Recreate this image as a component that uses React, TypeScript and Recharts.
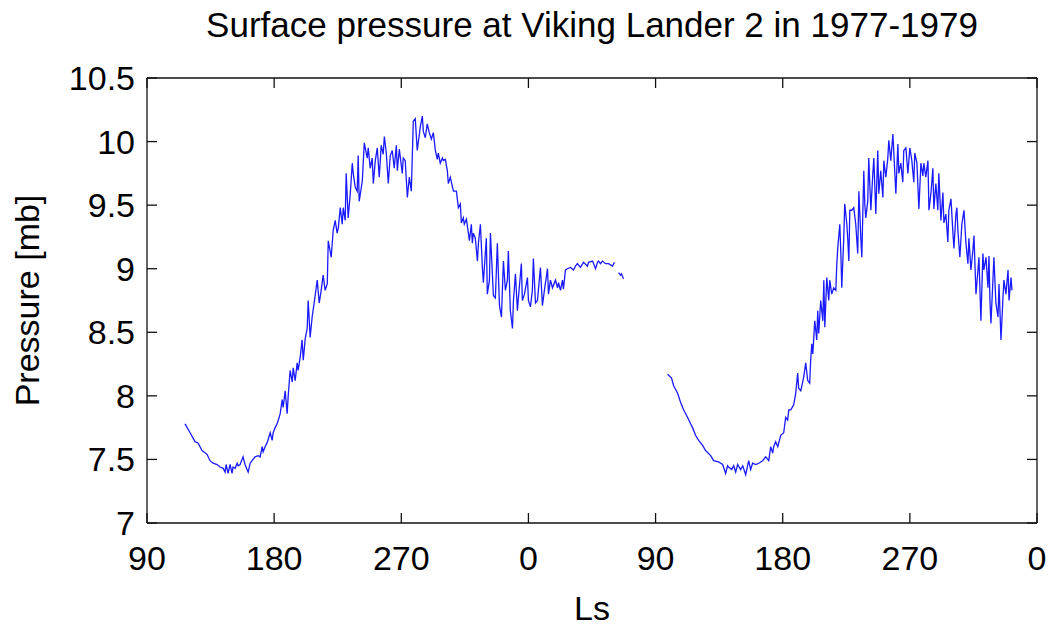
import { LineChart, Line, XAxis, YAxis } from 'recharts';

// Ls is counted on continuously: the second Mars year carries on past 360
const lsTicks = [90, 180, 270, 360, 450, 540, 630, 720];
const pressureTicks = [7, 7.5, 8, 8.5, 9, 9.5, 10, 10.5];

// first season (1977)
const lsFirst = [
  116.9, 120.5, 124.0, 126.1, 129.0, 132.5, 134.6, 136.8, 139.6, 141.7,
  143.9, 145.3, 146.0, 147.4, 148.8, 150.2, 150.9, 152.4, 153.8, 154.5,
  155.9, 158.0, 159.4, 161.6, 163.0, 164.4, 166.5, 168.7, 170.1, 171.5,
  172.2, 173.6, 175.0, 177.2, 178.6, 179.3, 180.7, 182.1, 183.5, 184.3,
  185.7, 186.4, 187.8, 189.2, 189.9, 191.3, 192.8, 193.5, 194.9, 196.3,
  197.0, 198.4, 199.8, 200.6, 202.0, 203.4, 204.1, 205.5, 206.9, 208.3,
  210.5, 211.9, 213.3, 214.7, 216.1, 217.6, 218.3, 220.4, 221.8, 223.2,
  224.6, 225.4, 226.8, 228.2, 228.9, 230.3, 231.0, 232.4, 233.9, 235.3,
  236.0, 237.4, 238.8, 239.5, 240.2, 242.4, 243.8, 245.9, 246.6, 248.0,
  249.4, 250.2, 251.6, 253.0, 254.4, 255.8, 257.2, 258.0, 259.4, 260.8,
  262.2, 263.6, 265.0, 266.5, 267.2, 268.6, 270.7, 271.4, 272.8, 274.3,
  275.7, 277.1, 278.5, 279.9, 281.3, 283.5, 284.9, 285.6, 287.0, 288.4,
  289.8, 291.3, 292.7, 294.1, 295.5, 296.2, 297.6, 299.1, 299.8, 301.2,
  302.6, 303.3, 304.7, 306.1, 306.9, 309.0, 310.4, 311.8, 312.5, 313.9,
  314.6, 316.1, 317.5, 318.2, 319.6, 320.3, 321.0, 322.4, 323.9, 324.6,
  326.0, 327.4, 328.1, 330.2, 330.9, 332.4, 333.1, 335.2, 336.6, 338.0,
  339.5, 340.9, 342.3, 343.7, 345.1, 345.8, 347.2, 348.7, 349.4, 350.8,
  352.2, 352.9, 355.0, 355.7, 357.2, 359.3, 360.0, 361.4, 362.8, 363.5,
  365.0, 366.4, 368.5, 369.9, 371.3, 373.5, 374.2, 375.6, 377.0, 379.1,
  380.6, 381.3, 382.7, 384.1, 384.8, 386.2, 387.6, 389.8, 391.9, 393.3,
  394.7, 396.8, 399.0, 401.8, 402.5, 405.4, 407.5, 408.9, 409.6, 411.0,
  412.4, 414.6, 416.7, 419.5, 420.9,
];
const mbFirst = [
  7.78, 7.71, 7.64, 7.63, 7.57, 7.54, 7.49, 7.47, 7.46, 7.44,
  7.43, 7.40, 7.46, 7.39, 7.46, 7.39, 7.44, 7.43, 7.47, 7.45,
  7.46, 7.52, 7.46, 7.40, 7.47, 7.49, 7.52, 7.53, 7.52, 7.60,
  7.56, 7.60, 7.63, 7.71, 7.65, 7.71, 7.75, 7.78, 7.83, 7.86,
  7.97, 7.91, 8.04, 7.86, 7.99, 8.20, 8.11, 8.22, 8.12, 8.26,
  8.20, 8.30, 8.44, 8.28, 8.45, 8.53, 8.75, 8.46, 8.62, 8.73,
  8.91, 8.73, 8.83, 8.95, 8.83, 8.88, 9.22, 9.09, 9.30, 9.38,
  9.28, 9.32, 9.48, 9.35, 9.48, 9.38, 9.75, 9.40, 9.59, 9.83,
  9.75, 9.64, 9.61, 9.89, 9.53, 9.69, 9.99, 9.87, 9.95, 9.79,
  9.87, 9.67, 9.85, 9.95, 9.72, 9.97, 9.90, 10.04, 9.91, 9.67,
  9.89, 9.93, 9.79, 9.97, 9.77, 9.94, 9.75, 9.87, 9.85, 9.56,
  9.72, 9.61, 10.16, 10.18, 9.93, 10.12, 10.20, 10.08, 10.03, 10.14,
  10.07, 10.02, 10.07, 9.93, 9.86, 9.91, 9.83, 9.87, 9.85, 9.86,
  9.77, 9.67, 9.72, 9.65, 9.61, 9.61, 9.48, 9.51, 9.36, 9.40,
  9.35, 9.39, 9.28, 9.22, 9.35, 9.20, 9.28, 9.24, 9.06, 9.20,
  9.35, 9.01, 8.89, 9.24, 8.80, 8.91, 9.28, 8.79, 8.77, 9.20,
  8.71, 8.62, 9.06, 8.83, 8.91, 9.14, 8.67, 8.53, 8.75, 8.96,
  8.67, 8.77, 9.04, 8.75, 8.80, 8.93, 8.75, 8.70, 8.83, 9.08,
  8.73, 8.75, 9.01, 8.71, 8.83, 9.00, 8.80, 8.91, 8.85, 8.91,
  8.85, 8.89, 8.83, 8.91, 8.84, 8.99, 9.00, 9.01, 8.99, 9.02,
  9.04, 9.01, 9.05, 9.02, 9.05, 9.06, 9.00, 9.05, 9.06, 9.04,
  9.06, 9.04, 9.04, 9.02, 9.05,
];

// short piece after the first break
const lsShort = [423.8, 425.2, 425.9, 427.3];
const mbShort = [8.97, 8.95, 8.96, 8.92];

// second season (1978-1979)
const lsSecond = [
  458.5, 461.3, 462.8, 465.6, 467.7, 469.8, 472.7, 474.8, 476.2, 478.3,
  480.5, 483.3, 485.4, 489.0, 491.1, 494.6, 497.5, 499.6, 501.0, 501.7,
  503.9, 505.3, 506.7, 508.1, 510.2, 511.7, 513.8, 515.9, 517.3, 518.7,
  520.9, 523.0, 525.8, 528.0, 530.1, 531.5, 532.9, 533.6, 535.0, 536.5,
  538.6, 540.7, 542.1, 543.5, 544.3, 545.7, 547.8, 549.2, 550.6, 551.3,
  552.8, 554.9, 556.3, 557.7, 559.1, 559.8, 560.6, 561.3, 562.7, 564.1,
  564.8, 565.5, 566.9, 568.4, 569.1, 569.8, 571.2, 572.6, 573.3, 574.7,
  576.1, 577.6, 578.3, 579.0, 580.4, 581.1, 581.8, 583.2, 583.9, 585.4,
  586.1, 586.8, 587.5, 588.9, 590.3, 591.7, 593.1, 593.9, 595.3, 596.0,
  597.4, 598.1, 598.8, 600.2, 600.9, 602.4, 603.8, 604.5, 605.9, 607.3,
  608.0, 609.4, 610.9, 611.6, 613.0, 614.4, 615.1, 616.5, 618.0, 618.7,
  620.1, 621.5, 622.2, 623.6, 625.0, 625.7, 627.2, 628.6, 630.0, 631.4,
  632.8, 633.5, 635.0, 636.4, 637.8, 639.2, 639.9, 641.3, 642.8, 643.5,
  644.9, 646.3, 647.0, 648.4, 649.8, 650.5, 652.0, 653.4, 654.1, 655.5,
  656.9, 657.6, 659.1, 660.5, 661.2, 662.6, 663.3, 664.0, 665.4, 666.8,
  668.3, 669.7, 671.1, 671.8, 673.2, 674.6, 675.4, 676.8, 678.2, 678.9,
  680.3, 681.7, 682.4, 683.9, 685.3, 686.0, 686.7, 687.4, 688.8, 689.5,
  690.9, 692.4, 693.1, 694.5, 695.9, 696.6, 698.0, 699.5, 700.2, 701.6,
  702.3,
];
const mbSecond = [
  8.17, 8.14, 8.08, 8.02, 7.95, 7.89, 7.83, 7.78, 7.75, 7.69,
  7.65, 7.61, 7.57, 7.53, 7.49, 7.48, 7.46, 7.39, 7.45, 7.44,
  7.42, 7.45, 7.40, 7.46, 7.42, 7.45, 7.38, 7.49, 7.42, 7.47,
  7.46, 7.47, 7.49, 7.52, 7.49, 7.60, 7.55, 7.60, 7.64, 7.60,
  7.69, 7.71, 7.83, 7.81, 7.89, 7.89, 7.93, 8.02, 8.18, 8.06,
  8.04, 8.15, 8.26, 8.12, 8.10, 8.28, 8.41, 8.33, 8.59, 8.44,
  8.67, 8.49, 8.75, 8.59, 8.91, 8.54, 8.93, 8.75, 8.91, 8.80,
  8.85, 8.83, 9.04, 9.17, 9.35, 9.14, 8.85, 9.24, 9.51, 9.35,
  9.22, 9.06, 9.46, 9.46, 9.48, 9.35, 9.12, 9.61, 9.24, 9.09,
  9.77, 9.51, 9.40, 9.53, 9.87, 9.46, 9.75, 9.87, 9.43, 9.93,
  9.59, 9.77, 9.56, 9.85, 9.72, 9.87, 10.01, 9.85, 10.06, 9.90,
  9.59, 9.98, 9.75, 9.83, 9.68, 9.93, 9.95, 9.75, 9.95, 9.85,
  9.68, 9.91, 9.83, 9.47, 9.83, 9.73, 9.83, 9.72, 9.85, 9.46,
  9.59, 9.79, 9.47, 9.67, 9.46, 9.75, 9.38, 9.60, 9.36, 9.43,
  9.21, 9.46, 9.55, 9.28, 9.16, 9.43, 9.48, 9.30, 9.09, 9.35,
  9.46, 9.20, 9.04, 9.24, 8.99, 9.14, 9.26, 8.80, 8.99, 9.09,
  8.59, 9.12, 8.99, 9.09, 8.85, 9.10, 8.75, 8.57, 8.91, 9.09,
  8.73, 8.62, 8.88, 8.44, 8.77, 8.91, 8.80, 8.99, 8.75, 8.93,
  8.83,
];

const toPoints = (ls: number[], mb: number[]) => ls.map((v, i) => ({ ls: v, mb: mb[i] }));
const segments = [
  toPoints(lsFirst, mbFirst),
  toPoints(lsShort, mbShort),
  toPoints(lsSecond, mbSecond),
];

const FONT = '"Liberation Sans", Arial, Helvetica, sans-serif';
const INK = '#000';
const AXIS = '#111';
const TICK_LEN = 10;

const BottomTick = ({ x, y, payload }: any) => (
  <g>
    <line x1={x} y1={y} x2={x} y2={y - TICK_LEN} stroke={AXIS} strokeWidth={1.3} />
    <text x={x} y={y + 47} textAnchor="middle" fontSize={34} fontFamily={FONT} fill={INK}>
      {payload.value % 360}
    </text>
  </g>
);

const TopTick = ({ x, y }: any) => (
  <line x1={x} y1={y} x2={x} y2={y + TICK_LEN} stroke={AXIS} strokeWidth={1.3} />
);

const LeftTick = ({ x, y, payload }: any) => (
  <g>
    <line x1={x} y1={y} x2={x + TICK_LEN} y2={y} stroke={AXIS} strokeWidth={1.3} />
    <text x={x - 12} y={y + 12} textAnchor="end" fontSize={34} fontFamily={FONT} fill={INK}>
      {payload.value}
    </text>
  </g>
);

const RightTick = ({ x, y }: any) => (
  <line x1={x} y1={y} x2={x - TICK_LEN} y2={y} stroke={AXIS} strokeWidth={1.3} />
);

const Title = ({ viewBox }: any) => (
  <text
    x={viewBox.x + viewBox.width / 2}
    y={37}
    textAnchor="middle"
    fontSize={35}
    fontFamily={FONT}
    fill={INK}
  >
    Surface pressure at Viking Lander 2 in 1977-1979
  </text>
);

const LsLabel = ({ viewBox }: any) => (
  <text
    x={viewBox.x + viewBox.width / 2}
    y={viewBox.y + 97}
    textAnchor="middle"
    fontSize={34}
    fontFamily={FONT}
    fill={INK}
  >
    Ls
  </text>
);

const PressureLabel = ({ viewBox }: any) => {
  const cx = 39;
  const cy = viewBox.y + viewBox.height / 2;
  return (
    <text
      x={cx}
      y={cy}
      transform={`rotate(-90, ${cx}, ${cy})`}
      textAnchor="middle"
      fontSize={34}
      fontFamily={FONT}
      fill={INK}
    >
      Pressure [mb]
    </text>
  );
};

export default function App() {
  return (
    <div style={{ position: 'absolute', left: 0, top: 0, width: 1051, height: 626, background: '#fff' }}>
      <LineChart width={1051} height={626} margin={{ top: 1, right: 0, bottom: 0, left: 0 }}>
        <XAxis
          xAxisId="bottom"
          dataKey="ls"
          type="number"
          domain={[90, 720]}
          ticks={lsTicks}
          interval={0}
          height={103}
          tickSize={0}
          tickMargin={0}
          tickLine={false}
          axisLine={{ stroke: AXIS, strokeWidth: 1.3 }}
          tick={<BottomTick />}
          label={{ content: <LsLabel /> }}
          allowDataOverflow
        />
        <XAxis
          xAxisId="top"
          orientation="top"
          dataKey="ls"
          type="number"
          domain={[90, 720]}
          ticks={lsTicks}
          interval={0}
          height={77}
          tickSize={0}
          tickMargin={0}
          tickLine={false}
          axisLine={{ stroke: AXIS, strokeWidth: 1.3 }}
          tick={<TopTick />}
          label={{ content: <Title /> }}
          allowDataOverflow
        />
        <YAxis
          yAxisId="left"
          type="number"
          domain={[7, 10.5]}
          ticks={pressureTicks}
          interval={0}
          width={147}
          tickSize={0}
          tickMargin={0}
          tickLine={false}
          axisLine={{ stroke: AXIS, strokeWidth: 1.3 }}
          tick={<LeftTick />}
          label={{ content: <PressureLabel /> }}
          allowDataOverflow
        />
        <YAxis
          yAxisId="right"
          orientation="right"
          type="number"
          domain={[7, 10.5]}
          ticks={pressureTicks}
          interval={0}
          width={14}
          tickSize={0}
          tickMargin={0}
          tickLine={false}
          axisLine={{ stroke: AXIS, strokeWidth: 1.3 }}
          tick={<RightTick />}
          allowDataOverflow
        />
        {segments.map((seg, i) => (
          <Line
            key={i}
            data={seg}
            xAxisId="bottom"
            yAxisId="left"
            dataKey="mb"
            type="linear"
            stroke="#1a1aff"
            strokeWidth={1.3}
            dot={false}
            activeDot={false}
            isAnimationActive={false}
          />
        ))}
      </LineChart>
    </div>
  );
}
